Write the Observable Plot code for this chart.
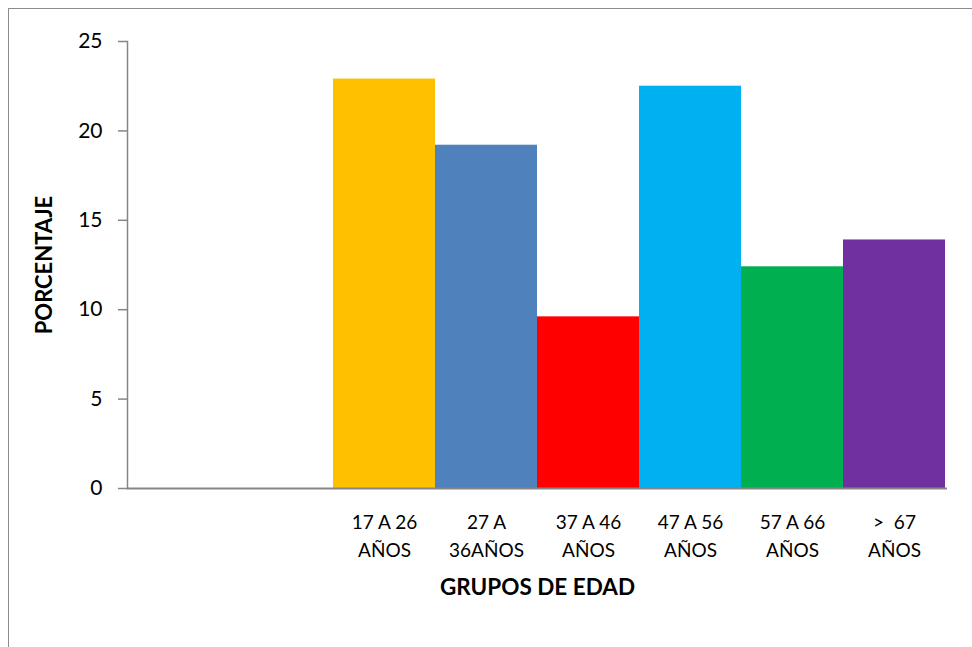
<!DOCTYPE html>
<html>
<head>
<meta charset="utf-8">
<script src="https://cdn.jsdelivr.net/npm/d3@7"></script>
<script src="https://cdn.jsdelivr.net/npm/@observablehq/plot@0.6"></script>
<style>
  html, body { margin: 0; padding: 0; background: #fff; }
  #wrap { position: relative; width: 972px; height: 647px; overflow: hidden; }
  #border { position: absolute; left: 8px; top: 8px; width: 980px; height: 700px; border: 1.5px solid #8c8c8c; box-sizing: border-box; }
  #chart { position: absolute; left: 0; top: 0; }
  svg { font-family: Lato, "Open Sans", sans-serif; }
</style>
</head>
<body>
<div id="wrap"><div id="border"></div><div id="chart"></div></div>
<script>
// Categories (two leading empty slots as in the original)
const categoryKeys = ["vacío1", "vacío2", "17-26", "27-36", "37-46", "47-56", "57-66", ">67"];
const categoryLabels = ["", "", "17 A 26\nAÑOS", "27 A\n36AÑOS", "37 A 46\nAÑOS", "47 A 56\nAÑOS", "57 A 66\nAÑOS", ">  67\nAÑOS"];
const values = [null, null, 22.9, 19.2, 9.6, 22.5, 12.4, 13.9];
const colors = [null, null, "#FFC000", "#4F81BD", "#FF0000", "#00B0F0", "#00B050", "#7030A0"];
const yTicks = [0, 5, 10, 15, 20, 25];
const xTitle = "GRUPOS DE EDAD";
const yTitle = "PORCENTAJE";

const data = categoryKeys.map((k, i) => ({key: k, label: categoryLabels[i], value: values[i], color: colors[i]}));
const bars = data.filter(d => d.value != null);
const labels = data.filter(d => d.label !== "");

const axisColor = "#868686";

const chart = Plot.plot({
  width: 972,
  height: 647,
  marginLeft: 127,
  marginRight: 25,
  marginTop: 41,
  marginBottom: 159,
  style: {background: "transparent", fontFamily: "Lato, 'Open Sans', sans-serif", color: "#000"},
  x: {type: "band", domain: categoryKeys, padding: 0, axis: null},
  y: {domain: [0, 25], axis: null},
  marks: [
    Plot.barY(bars, {x: "key", y: "value", fill: "color", inset: 0}),
    Plot.frame({anchor: "left", stroke: axisColor, strokeWidth: 1.5, strokeOpacity: 1}),
    Plot.ruleY([0], {stroke: axisColor, strokeWidth: 2}),
    Plot.axisY({ticks: yTicks, tickSize: 9, tickPadding: 16, stroke: axisColor, strokeWidth: 1.5, fontSize: 21, fill: "#000", label: null, tickFormat: d => String(d)}),
    Plot.text(labels, {x: "key", y: 0, text: "label", dy: 20, lineAnchor: "top", lineHeight: 1.5, fontSize: 19, fill: "#000"}),
    Plot.text([xTitle], {frameAnchor: "bottom", dy: 99, lineAnchor: "middle", fontSize: 22.5, fontWeight: "bold", fill: "#000"}),
    Plot.text([yTitle], {frameAnchor: "left", dx: -83, rotate: -90, textAnchor: "middle", lineAnchor: "middle", fontSize: 22, fontWeight: "bold", fill: "#000"})
  ]
});
document.getElementById("chart").appendChild(chart);
</script>
</body>
</html>
